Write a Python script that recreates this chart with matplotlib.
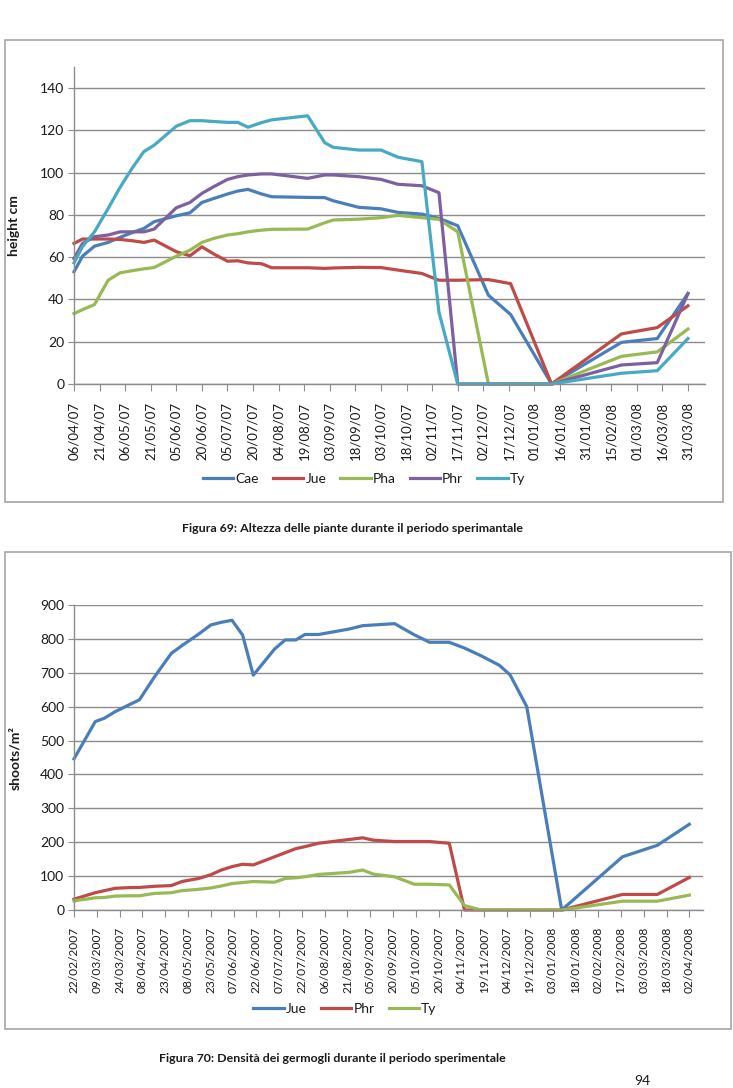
import matplotlib
matplotlib.use("Agg")
import matplotlib.pyplot as plt
import matplotlib.dates as mdates
from matplotlib.patches import Rectangle
import pandas as pd

# ---------------- data: Figura 69 (height) ----------------
h_dates = ["06/04/07", "11/04/07", "18/04/07", "26/04/07", "03/05/07", "10/05/07",
           "17/05/07", "23/05/07", "05/06/07", "13/06/07", "20/06/07", "27/06/07",
           "05/07/07", "11/07/07", "17/07/07", "25/07/07", "31/07/07", "21/08/07",
           "31/08/07", "05/09/07", "20/09/07", "03/10/07", "13/10/07", "27/10/07",
           "06/11/07", "17/11/07", "05/12/07", "18/12/07", "11/01/08", "21/02/08",
           "13/03/08", "31/03/08"]
h_cae = [53.1, 60.5, 65.2, 67, 69.4, 71.6, 73.6, 76.8, 79.6, 81, 85.9, 87.8, 89.9, 91.3,
         92.1, 89.9, 88.6, 88.3, 88.2, 86.7, 83.6, 82.9, 81.2, 80.4, 78.4, 74.9, 42, 32.9,
         0, 19.7, 21.5, 42.8]
h_jue = [66.5, 68.6, 68.6, 68.6, 68.4, 67.8, 67, 68.1, 62.6, 60.7, 64.9, 61.5, 58.1, 58.3,
         57.3, 56.9, 55, 55, 54.7, 54.9, 55.2, 55.1, 53.9, 52.3, 49.1, 49.1, 49.4, 47.5,
         0, 23.7, 26.7, 37]
h_pha = [33.3, 35.2, 37.6, 49.1, 52.6, 53.6, 54.5, 55.1, 60.5, 63.3, 67, 68.9, 70.5, 71.1,
         72, 72.8, 73.2, 73.3, 76.3, 77.6, 78, 78.7, 79.8, 78.7, 77.9, 72, 0, 0,
         0, 13.1, 15.2, 26]
h_phr = [59.4, 66.5, 69.7, 70.5, 72, 72, 72, 73.3, 83.4, 85.9, 90.2, 93.4, 96.8, 98.1,
         98.9, 99.4, 99.4, 97.3, 98.9, 98.9, 98.1, 96.8, 94.5, 93.8, 90.5, 0, 0, 0,
         0, 9, 10.1, 42.8]
h_ty = [57.3, 65, 72, 83, 93, 102, 110, 113, 122, 124.6, 124.6, 124.2, 123.8, 123.8,
        121.5, 123.7, 125, 126.9, 114.2, 112, 110.7, 110.7, 107.3, 105.2, 34, 0, 0, 0,
        0, 5.1, 6.3, 21.5]
h_names = ["Cae", "Jue", "Pha", "Phr", "Ty"]

# ---------------- data: Figura 70 (shoot density) ----------------
d_dates = ["22/02/2007", "08/03/2007", "14/03/2007", "21/03/2007", "30/03/2007",
           "06/04/2007", "16/04/2007", "27/04/2007", "04/05/2007", "15/05/2007",
           "23/05/2007", "30/05/2007", "06/06/2007", "13/06/2007", "20/06/2007",
           "04/07/2007", "11/07/2007", "18/07/2007", "24/07/2007", "02/08/2007",
           "22/08/2007", "31/08/2007", "07/09/2007", "21/09/2007", "04/10/2007",
           "14/10/2007", "27/10/2007", "06/11/2007", "17/11/2007", "29/11/2007",
           "06/12/2007", "17/12/2007", "09/01/2008", "18/02/2008", "12/03/2008",
           "02/04/2008"]
d_jue = [446, 556, 566, 585, 605, 620, 688, 757, 780, 814, 841, 849, 855, 811, 693, 770,
         797, 797, 813, 813, 829, 839, 841, 845, 812, 790, 790, 773, 750, 722, 694, 600,
         0, 157, 191, 253]
d_phr = [32, 51, 57, 64, 66, 66.5, 70, 72, 84, 93, 104, 118, 128, 135, 133, 157,
         169, 181, 187, 197, 208, 213, 206, 202, 202, 202, 197, 0, 0, 0, 0, 0,
         0, 46, 46, 96]
d_ty = [27, 36, 37, 41, 42, 42, 49, 51, 57, 61, 65, 71, 78, 81, 84, 82,
        93, 95, 98, 105, 111, 118, 106, 98, 76, 76, 74, 13, 0, 0, 0, 0,
        0, 26, 26, 44]
d_names = ["Jue", "Phr", "Ty"]

C_BLUE, C_RED, C_GREEN, C_PURPLE, C_CYAN = "#4A7EBB", "#BE4B48", "#98B954", "#7D60A0", "#46AAC5"
GRID = "#8C8C8C"
TXT = "#1a1a1a"

plt.rcParams["font.family"] = ["Lato", "DejaVu Sans"]

W, H = 733, 1088
fig = plt.figure(figsize=(W / 100, H / 100), dpi=100)


def px_axes(l, t, r, b):
    return fig.add_axes([l / W, 1 - b / H, (r - l) / W, (b - t) / H])


def style(ax, xsize):
    for s in ("top", "right"):
        ax.spines[s].set_visible(False)
    for s in ("left", "bottom"):
        ax.spines[s].set_color(GRID)
        ax.spines[s].set_linewidth(1.0)
    ax.grid(axis="y", color=GRID, linewidth=1.0)
    ax.set_axisbelow(True)
    ax.tick_params(axis="y", direction="out", length=4, color=GRID, labelsize=10,
                   labelcolor=TXT, pad=3)
    ax.tick_params(axis="x", direction="out", length=5, color=GRID, labelsize=xsize,
                   labelcolor=TXT, pad=8, labelrotation=90)


# ---------------- top chart ----------------
fig.add_artist(Rectangle((5 / W, 1 - 502 / H), 718 / W, 462 / H, transform=fig.transFigure,
                         fill=False, edgecolor="#A6A6A6", linewidth=1.2))
ax1 = px_axes(74, 67, 705, 384)
hx = pd.to_datetime(h_dates, format="%d/%m/%y")
for vals, name, col in zip([h_cae, h_jue, h_pha, h_phr, h_ty], h_names,
                           [C_BLUE, C_RED, C_GREEN, C_PURPLE, C_CYAN]):
    ax1.plot(hx, vals, color=col, lw=2.3, label=name, clip_on=False,
             solid_joinstyle="round")
start1 = hx[0]
ticks1 = pd.date_range(start1, periods=25, freq="15D")
ax1.set_xticks(ticks1)
ax1.xaxis.set_major_formatter(mdates.DateFormatter("%d/%m/%y"))
ax1.set_xlim(start1, start1 + pd.Timedelta(days=370))
ax1.set_ylim(0, 150)
ax1.set_yticks(range(0, 141, 20))
style(ax1, 9.5)
ax1.set_ylabel("height cm", fontsize=10, fontweight="bold", color=TXT)
ax1.yaxis.set_label_coords(-0.085, 0.5)
h1, l1 = ax1.get_legend_handles_labels()
fig.legend(h1, l1, loc="center", bbox_to_anchor=(364 / W, 1 - 479 / H), ncol=5,
           frameon=False, fontsize=10, handlelength=2.2, handletextpad=0.15,
           columnspacing=1.0, labelcolor=TXT)
fig.text(353 / W, 1 - 529 / H, "Figura 69: Altezza delle piante durante il periodo sperimantale",
         ha="center", va="center", fontsize=8.9, fontweight="bold", color=TXT)

# ---------------- bottom chart ----------------
fig.add_artist(Rectangle((5 / W, 1 - 1029 / H), 726 / W, 477 / H, transform=fig.transFigure,
                         fill=False, edgecolor="#A6A6A6", linewidth=1.2))
ax2 = px_axes(74, 605, 703, 910)
dx = pd.to_datetime(d_dates, format="%d/%m/%Y")
for vals, name, col in zip([d_jue, d_phr, d_ty], d_names, [C_BLUE, C_RED, C_GREEN]):
    ax2.plot(dx, vals, color=col, lw=2.3, label=name, clip_on=False,
             solid_joinstyle="round")
start2 = dx[0]
ticks2 = pd.date_range(start2, periods=28, freq="15D")
ax2.set_xticks(ticks2)
ax2.xaxis.set_major_formatter(mdates.DateFormatter("%d/%m/%Y"))
ax2.set_xlim(start2, start2 + pd.Timedelta(days=414))
ax2.set_ylim(0, 900)
ax2.set_yticks(range(0, 901, 100))
style(ax2, 8.6)
ax2.tick_params(axis="x", pad=7)
ax2.set_ylabel("shoots/m²", fontsize=10, fontweight="bold", color=TXT)
ax2.yaxis.set_label_coords(-0.084, 0.5)
h2, l2 = ax2.get_legend_handles_labels()
fig.legend(h2, l2, loc="center", bbox_to_anchor=(345 / W, 1 - 1009 / H), ncol=3,
           frameon=False, fontsize=10, handlelength=2.2, handletextpad=0.15,
           columnspacing=1.0, labelcolor=TXT)
fig.text(332 / W, 1 - 1058 / H, "Figura 70: Densità dei germogli durante il periodo sperimentale",
         ha="center", va="center", fontsize=8.9, fontweight="bold", color=TXT)
fig.text(642 / W, 1 - 1087 / H, "94", ha="center", va="bottom", fontsize=10, color=TXT)

fig.savefig("out.png", dpi=100)
